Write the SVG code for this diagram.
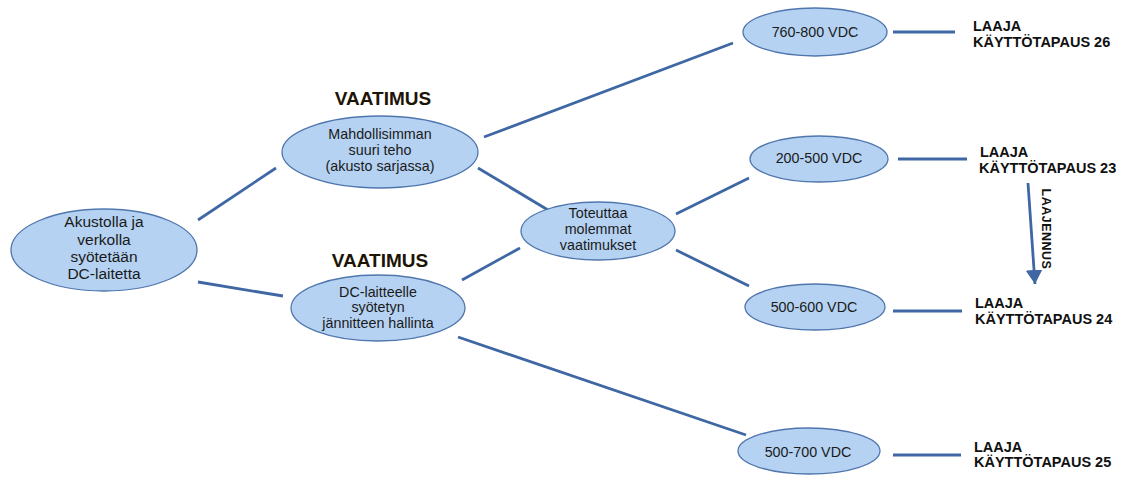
<svg xmlns="http://www.w3.org/2000/svg" width="1127" height="480" viewBox="0 0 1127 480">
<style>
.n{fill:#b5d2f2;stroke:#4f76ad;stroke-width:1.3}
.t{font-family:"Liberation Sans",Arial,sans-serif;font-size:14.3px;fill:#1a1a1a;text-anchor:middle}
.h{font-family:"Liberation Sans",Arial,sans-serif;font-size:19px;font-weight:bold;fill:#1e1406;text-anchor:middle}
.l{font-family:"Liberation Sans",Arial,sans-serif;font-size:14.5px;font-weight:bold;fill:#111}
.c{stroke:#3e67a3;stroke-width:2.8;fill:none}
</style>
<defs>
<marker id="ah" markerWidth="6" markerHeight="6" refX="5" refY="3" orient="auto" markerUnits="strokeWidth">
<path d="M0,0 L5,3 L0,6 Z" fill="#3e67a3"/>
</marker>
</defs>
<rect width="1127" height="480" fill="#fff"/>
<g id="connectors">
<line class="c" x1="198" y1="220" x2="276" y2="168"/>
<line class="c" x1="198" y1="282" x2="283" y2="296"/>
<line class="c" x1="484" y1="137" x2="733" y2="43"/>
<line class="c" x1="478" y1="168" x2="548" y2="210"/>
<line class="c" x1="462" y1="280" x2="520" y2="248"/>
<line class="c" x1="458" y1="337" x2="746" y2="435"/>
<line class="c" x1="676" y1="214" x2="749" y2="178"/>
<line class="c" x1="676" y1="250" x2="749" y2="286"/>
<line class="c" x1="893" y1="32" x2="955" y2="32"/>
<line class="c" x1="898" y1="159" x2="967" y2="159"/>
<line class="c" x1="893" y1="311" x2="962" y2="311"/>
<line class="c" x1="893" y1="455" x2="961" y2="455"/>
<line class="c" x1="1028" y1="183" x2="1035" y2="284" marker-end="url(#ah)"/>
<text class="l" transform="translate(1042,229) rotate(90)" text-anchor="middle" style="font-size:12.5px;letter-spacing:0.5px">LAAJENNUS</text>
</g>
<g id="n-akusto">
<ellipse class="n" cx="104" cy="250" rx="93" ry="41"/>
<text class="t" style="font-size:15.5px"><tspan x="104" y="227">Akustolla ja</tspan><tspan x="104" y="245">verkolla</tspan><tspan x="104" y="262">syötetään</tspan><tspan x="104" y="279">DC-laitetta</tspan></text>
</g>
<g id="n-teho">
<text class="h" x="383" y="105">VAATIMUS</text>
<ellipse class="n" cx="380" cy="152" rx="98" ry="36"/>
<text class="t"><tspan x="380" y="139">Mahdollisimman</tspan><tspan x="380" y="155">suuri teho</tspan><tspan x="380" y="171">(akusto sarjassa)</tspan></text>
</g>
<g id="n-jannite">
<text class="h" x="380" y="267">VAATIMUS</text>
<ellipse class="n" cx="378" cy="308" rx="87" ry="33"/>
<text class="t"><tspan x="378" y="297">DC-laitteelle</tspan><tspan x="378" y="312">syötetyn</tspan><tspan x="378" y="328">jännitteen hallinta</tspan></text>
</g>
<g id="n-molemmat">
<ellipse class="n" cx="598" cy="231" rx="77" ry="29"/>
<text class="t"><tspan x="598" y="218">Toteuttaa</tspan><tspan x="598" y="234">molemmat</tspan><tspan x="598" y="250">vaatimukset</tspan></text>
</g>
<g id="n-760">
<ellipse class="n" cx="815" cy="32" rx="72" ry="24"/>
<text class="t" x="815" y="37">760-800 VDC</text>
</g>
<g id="n-200">
<ellipse class="n" cx="819" cy="159" rx="69" ry="23"/>
<text class="t" x="819" y="163">200-500 VDC</text>
</g>
<g id="n-500-600">
<ellipse class="n" cx="815" cy="307" rx="70" ry="23"/>
<text class="t" x="814" y="312">500-600 VDC</text>
</g>
<g id="n-500-700">
<ellipse class="n" cx="809" cy="451" rx="71" ry="23"/>
<text class="t" x="808" y="457">500-700 VDC</text>
</g>
<g id="uc26">
<text class="l"><tspan x="973" y="31">LAAJA</tspan><tspan x="973" y="47">KÄYTTÖTAPAUS 26</tspan></text>
</g>
<g id="uc23">
<text class="l"><tspan x="980" y="157">LAAJA</tspan><tspan x="979" y="173">KÄYTTÖTAPAUS 23</tspan></text>
</g>
<g id="uc24">
<text class="l"><tspan x="975" y="308">LAAJA</tspan><tspan x="975" y="324">KÄYTTÖTAPAUS 24</tspan></text>
</g>
<g id="uc25">
<text class="l"><tspan x="974" y="452">LAAJA</tspan><tspan x="974" y="467">KÄYTTÖTAPAUS 25</tspan></text>
</g>
</svg>
